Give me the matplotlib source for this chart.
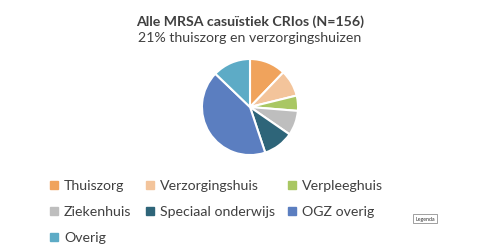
import matplotlib
matplotlib.use("Agg")
from matplotlib import pyplot as plt

# data (counts, N=156)
labels = ["Thuiszorg", "Verzorgingshuis", "Verpleeghuis", "Ziekenhuis",
          "Speciaal onderwijs", "OGZ overig", "Overig"]
counts = [19, 14, 8, 13, 16, 66, 20]
colors = ["#F0A35C", "#F3C49B", "#A9C763", "#BEBEBE", "#2E6579", "#5B7EC0", "#5DABC6"]

plt.rcParams['font.family'] = ['Lato', 'DejaVu Sans']

fig = plt.figure(figsize=(5, 2.53), dpi=100)
fig.patch.set_facecolor("white")

# pie axes, center ~ (250,108) px, radius ~48 px
ax = fig.add_axes([0.5 - 0.098, 0.573 - 0.194, 0.196, 0.388])
wedges, _ = ax.pie(counts, colors=colors, startangle=90, counterclock=False,
                   wedgeprops=dict(edgecolor="white", linewidth=1.5))
ax.set_xlim(-1.02, 1.02)
ax.set_ylim(-1.02, 1.02)
ax.set_aspect("equal")
ax.axis("off")

fig.text(0.5, 0.913, "Alle MRSA casuïstiek CRIos (N=156)", ha="center", va="center",
         fontsize=10.2, fontweight="bold", color="#404040")
fig.text(0.5, 0.85, "21% thuiszorg en verzorgingshuizen", ha="center", va="center",
         fontsize=10.2, color="#404040")

# legend, manual grid like Excel
col_x = [0.104, 0.296, 0.58]
row_y = [0.27, 0.167, 0.064]
for i, (lab, col) in enumerate(zip(labels, colors)):
    r, c = divmod(i, 3)
    x = col_x[c]
    y = row_y[r]
    fig.patches.append(plt.Rectangle((x - 0.004, y - 0.02), 0.016, 0.032,
                                     transform=fig.transFigure, color=col))
    fig.text(x + 0.024, y - 0.004, lab, ha="left", va="center", fontsize=10.2, color="#404040")

fig.text(0.850, 0.133, "Legenda", ha="center", va="center", fontsize=3.8, color="#303030",
         bbox=dict(boxstyle="square,pad=0.4", facecolor="white", edgecolor="#909090", linewidth=0.6))

plt.savefig("out.png", dpi=100)
